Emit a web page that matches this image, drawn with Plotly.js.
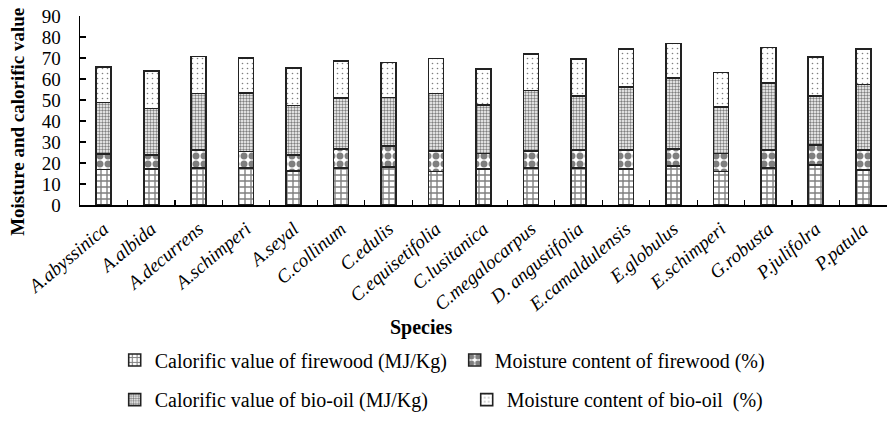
<!DOCTYPE html>
<html>
<head>
<meta charset="utf-8">
<script src="https://cdn.plot.ly/plotly-3.0.1.min.js"></script>
<style>html,body{margin:0;padding:0;background:#fff}#chart{width:889px;height:422px}</style>
</head>
<body>
<div id="chart"></div>
<script>
const species = ["A.abyssinica","A.albida","A.decurrens","A.schimperi","A.seyal","C.collinum","C.edulis","C.equisetifolia","C.lusitanica","C.megalocarpus","D. angustifolia","E.camaldulensis","E.globulus","E.schimperi","G.robusta","P.julifolra","P.patula"];
const cvFirewood = [17.0,17.2,17.5,17.5,16.2,17.5,18.0,16.0,17.2,17.5,17.5,17.2,18.6,16.0,17.5,19.1,16.7];
const mcFirewood = [7.4,6.6,8.6,7.9,7.6,9.1,10.0,9.7,7.4,8.2,8.6,8.9,8.0,8.6,8.6,9.4,9.4];
const cvBioOil = [24.4,22.2,27.0,28.0,23.5,24.3,23.2,27.4,23.0,28.9,25.9,30.2,33.8,22.0,32.1,23.5,31.3];
const mcBioOil = [16.8,17.7,17.6,16.6,17.8,17.6,16.7,16.7,17.3,17.2,17.5,17.9,16.6,16.5,16.8,18.4,16.8];
const seriesNames = ["Calorific value of firewood (MJ/Kg)","Moisture content of firewood (%)","Calorific value of bio-oil (MJ/Kg)","Moisture content of bio-oil  (%)"];
const yTitle = "Moisture and calorific value";
const xTitle = "Species";

const FONT = "Liberation Serif, Times New Roman, serif";
const line = {color:"#222", width:1.6};
const patterns = [
  {shape:"+", size:6, solidity:0.4, fgcolor:"#000", bgcolor:"#fff", fillmode:"overlay"},
  {shape:".", size:8, solidity:0.6, fgcolor:"#000", bgcolor:"#fff", fillmode:"overlay"},
  {shape:".", size:3, solidity:0.5, fgcolor:"#000", bgcolor:"#fff", fillmode:"overlay"},
  {shape:".", size:5, solidity:0.08, fgcolor:"#000", bgcolor:"#fff", fillmode:"overlay"}
];
const vals = [cvFirewood, mcFirewood, cvBioOil, mcBioOil];
const legendIds = ["legend","legend","legend2","legend2"];
const traces = vals.map((v,i)=>({
  type:"bar", x:species, y:v, name:seriesNames[i],
  legend: legendIds[i],
  marker:{color:"#fff", line:line, pattern:patterns[i]}
}));

const legendBase = {
  orientation:"h", xanchor:"left", yanchor:"middle", traceorder:"normal",
  font:{family:FONT, size:20, color:"#000"}, bgcolor:"rgba(0,0,0,0)",
  itemwidth:30, entrywidthmode:"pixels"
};
const layout = {
  width:889, height:422,
  margin:{l:80, r:2, t:16, b:215},
  barmode:"stack", bargap:0.684,
  paper_bgcolor:"#fff", plot_bgcolor:"#fff",
  font:{family:FONT, size:19, color:"#000"},
  showlegend:true,
  xaxis:{
    type:"category", range:[-0.5,16.5], showline:true, linecolor:"#000", linewidth:1.5,
    ticks:"inside", tickson:"boundaries", ticklen:5, tickcolor:"#000", tickwidth:1.2,
    tickangle:-40, ticklabelstandoff:4, tickfont:{family:FONT, size:19, style:"italic", color:"#000"},
    showgrid:false, zeroline:false
  },
  yaxis:{
    range:[0,90], dtick:10, showline:true, linecolor:"#000", linewidth:1.5,
    ticks:"inside", ticklen:6, tickcolor:"#000", tickwidth:1.2, ticklabelstandoff:14,
    tickfont:{family:FONT, size:19, color:"#000"},
    showgrid:false, zeroline:false
  },
  legend:Object.assign({}, legendBase, {x:0.043, y:-0.82, entrywidth:295}),
  legend2:Object.assign({}, legendBase, {x:0.043, y:-1.03, entrywidth:307}),
  annotations:[
    {text:"<b>"+xTitle+"</b>", xref:"paper", yref:"paper", x:0.4226, y:-0.646,
     xanchor:"center", yanchor:"middle", showarrow:false,
     font:{family:FONT, size:20, color:"#000"}},
    {text:"<b>"+yTitle+"</b>", xref:"paper", yref:"paper", x:-0.0768, y:0.44,
     xanchor:"center", yanchor:"middle", textangle:-90, showarrow:false,
     font:{family:FONT, size:19, color:"#000"}}
  ]
};
Plotly.newPlot("chart", traces, layout, {displayModeBar:false, staticPlot:true});
</script>
</body>
</html>
